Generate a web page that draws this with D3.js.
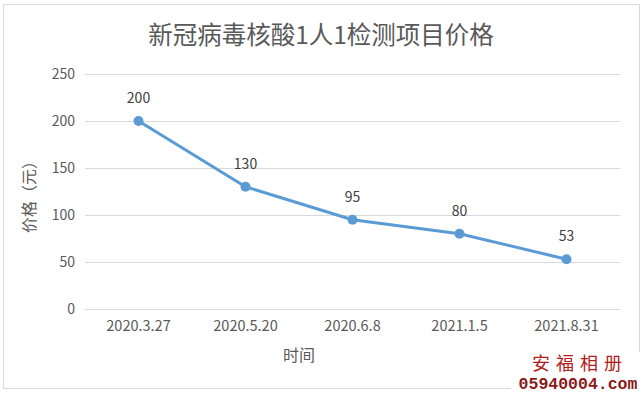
<!DOCTYPE html>
<html lang="zh">
<head>
<meta charset="utf-8">
<title>新冠病毒核酸1人1检测项目价格</title>
<script src="https://cdn.jsdelivr.net/npm/d3@7"></script>
<style>
  body { margin: 0; background: #fff; }
  text { font-family: "Noto Sans CJK SC", "Noto Sans", sans-serif; }
</style>
</head>
<body>
<script>
// data
var dates = ["2020.3.27", "2020.5.20", "2020.6.8", "2021.1.5", "2021.8.31"];
var prices = [200, 130, 95, 80, 53];
var yTicks = [0, 50, 100, 150, 200, 250];

var W = 643, H = 393;
var svg = d3.select("body").append("svg").attr("width", W).attr("height", H);

// chart frame
svg.append("rect").attr("x", 3.5).attr("y", 4.5).attr("width", 636).attr("height", 384)
  .attr("fill", "#fff").attr("stroke", "#d9d9d9");

var plotLeft = 85, plotRight = 620, plotTop = 74, plotBottom = 309;

var x = d3.scaleBand().domain(dates).range([plotLeft, plotRight]);
var y = d3.scaleLinear().domain([0, 250]).range([plotBottom, plotTop]);

// gridlines
svg.append("g").selectAll("line").data(yTicks).enter().append("line")
  .attr("x1", plotLeft).attr("x2", plotRight)
  .attr("y1", function(d) { return y(d) + 0.5; })
  .attr("y2", function(d) { return y(d) + 0.5; })
  .attr("stroke", "#d9d9d9").attr("stroke-width", 1);

// y axis labels
var yAxis = d3.axisLeft(y).tickValues(yTicks).tickSize(0).tickPadding(10);
var gy = svg.append("g").attr("transform", "translate(" + plotLeft + ",0)").call(yAxis);
gy.select(".domain").remove();
gy.selectAll("text").attr("fill", "#595959").style("font-size", "14px");

// x axis labels
var xAxis = d3.axisBottom(x).tickSize(0).tickPadding(12);
var gx = svg.append("g").attr("transform", "translate(0," + plotBottom + ")").call(xAxis);
gx.select(".domain").remove();
gx.selectAll("text").attr("fill", "#595959").style("font-size", "14.5px");

// line
var line = d3.line()
  .x(function(d, i) { return x(dates[i]) + x.bandwidth() / 2; })
  .y(function(d) { return y(d); });

svg.append("path").datum(prices).attr("d", line)
  .attr("fill", "none").attr("stroke", "#5b9bd5").attr("stroke-width", 3)
  .attr("stroke-linejoin", "round");

svg.append("g").selectAll("circle").data(prices).enter().append("circle")
  .attr("cx", function(d, i) { return x(dates[i]) + x.bandwidth() / 2; })
  .attr("cy", function(d) { return y(d); })
  .attr("r", 5).attr("fill", "#5b9bd5");

// data labels
svg.append("g").selectAll("text").data(prices).enter().append("text")
  .attr("x", function(d, i) { return x(dates[i]) + x.bandwidth() / 2; })
  .attr("y", function(d) { return y(d) - 18; })
  .attr("text-anchor", "middle").attr("fill", "#404040").style("font-size", "14px")
  .text(function(d) { return d; });

// title
svg.append("text").attr("x", 321).attr("y", 44).attr("text-anchor", "middle")
  .attr("fill", "#595959").style("font-size", "24.5px")
  .text("新冠病毒核酸1人1检测项目价格");

// axis titles
svg.append("text").attr("x", 299).attr("y", 361).attr("text-anchor", "middle")
  .attr("fill", "#595959").style("font-size", "16px").text("时间");
svg.append("text").attr("transform", "translate(35,193) rotate(-90)")
  .attr("text-anchor", "middle").attr("fill", "#595959").style("font-size", "16px")
  .text("价格（元）");

// watermark
svg.append("rect").attr("x", 511).attr("y", 352).attr("width", 132).attr("height", 41).attr("fill", "#fff");
svg.append("text").attr("x", 580).attr("y", 370).attr("text-anchor", "middle")
  .attr("fill", "#b01c1c").style("font-size", "18px").style("letter-spacing", "6px")
  .text("安福相册");
svg.append("text").attr("x", 578).attr("y", 389).attr("text-anchor", "middle")
  .attr("fill", "#8b1a1a").style("font-size", "16.5px").style("font-weight", "bold")
  .style("font-family", "'Liberation Mono', 'DejaVu Sans Mono', monospace")
  .text("05940004.com");
</script>
</body>
</html>
